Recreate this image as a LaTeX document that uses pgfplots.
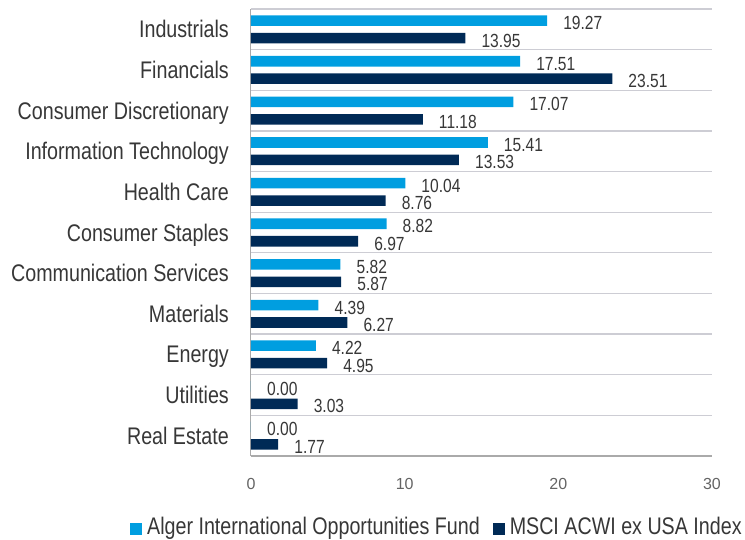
\documentclass[border=0pt]{standalone}
\usepackage{fontspec}
\setmainfont{Liberation Sans}[FakeStretch=0.82]
\newfontfamily\tickfont{Liberation Sans}
\usepackage{pgfplots}
\pgfplotsset{compat=1.18}
\definecolor{lightb}{RGB}{0,158,224}
\definecolor{darkb}{RGB}{0,42,86}
\definecolor{txt}{RGB}{55,55,55}
\definecolor{gridc}{RGB}{205,205,212}
\definecolor{axisc}{RGB}{170,170,170}
\definecolor{tickc}{RGB}{100,100,100}
\begin{document}
\begin{tikzpicture}
\useasboundingbox (-251pt,-83pt) rectangle (494pt,456pt);
\begin{axis}[
  scale only axis, width=461pt, height=447pt,
  anchor=south west, at={(0pt,0pt)},
  xmin=0, xmax=30, ymin=-0.5, ymax=10.5,
  clip=false,
  xbar, bar width=0.26,
  axis x line*=bottom, axis y line*=left,
  x axis line style={axisc, line width=2pt, -},
  y axis line style={axisc, line width=1pt, -},
  major tick length=0pt, minor tick length=0pt,
  xtick={0,10,20,30},
  /pgf/number format/assume math mode=true,
  xticklabel style={font=\tickfont\fontsize{16}{18}\selectfont, text=tickc, anchor=center, inner sep=0pt, yshift=-28pt},
  ytick={0,...,10},
  yticklabels={Real Estate, Utilities, Energy, Materials, Communication Services, Consumer Staples, Health Care, Information Technology, Consumer Discretionary, Financials, Industrials},
  yticklabel style={font=\fontsize{24}{28}\selectfont, text=txt, anchor=base east, inner sep=0pt, xshift=-22pt, yshift=-8.5pt},
  minor ytick={-0.5,0.5,1.5,2.5,3.5,4.5,5.5,6.5,7.5,8.5,9.5,10.5},
  yminorgrids=true,
  minor grid style={gridc, line width=1.2pt},
  point meta=x,
  nodes near coords={\pgfmathprintnumber[fixed,fixed zerofill,precision=2,assume math mode=true]{\pgfplotspointmeta}},
  nodes near coords style={font=\fontsize{19}{20}\selectfont, text=txt, anchor=base west, inner sep=0pt, xshift=16pt, yshift=-9pt},
  legend columns=2,
  legend style={draw=none, fill=none, at={(rel axis cs:0,0)}, anchor=west, xshift=-121pt, yshift=-70.5pt, inner sep=0pt,
    font=\fontsize{24}{28}\selectfont, text=txt, nodes={inner sep=0pt},
    /tikz/every odd column/.append style={column sep=5pt},
    /tikz/every even column/.append style={column sep=13pt}},
  legend image code/.code={\fill[#1] (0pt,-8pt) rectangle (12pt,4pt);},
]
\addplot[fill=lightb, draw=none, bar shift=0.215] coordinates {
  (19.27,10) (17.51,9) (17.07,8) (15.41,7) (10.04,6) (8.82,5) (5.82,4) (4.39,3) (4.22,2) (0,1) (0,0)};
\addlegendentry{Alger International Opportunities Fund}
\addplot[fill=darkb, draw=none, bar shift=-0.215] coordinates {
  (13.95,10) (23.51,9) (11.18,8) (13.53,7) (8.76,6) (6.97,5) (5.87,4) (6.27,3) (4.95,2) (3.03,1) (1.77,0)};
\addlegendentry{MSCI ACWI ex USA Index}
\end{axis}
\end{tikzpicture}
\end{document}
